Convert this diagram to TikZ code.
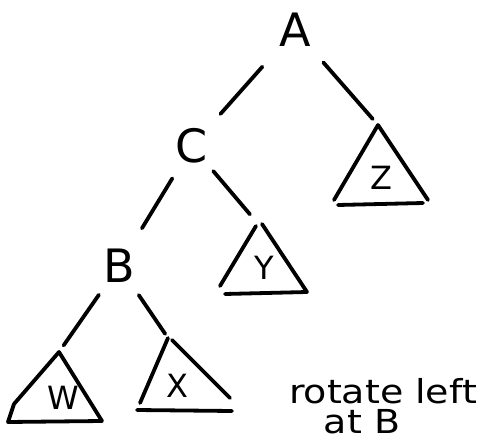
\documentclass[tikz,border=0pt]{standalone}
\usepackage{fontspec}
\setmainfont{DejaVu Sans}
\begin{document}
\begin{tikzpicture}[x=1pt,y=-1pt,
  ink/.style={line width=3.8pt,line cap=round,line join=round},
  key/.style={circle,inner sep=0pt,minimum size=40pt,font=\fontsize{46}{46}\selectfont},
  sub/.style={inner sep=0pt,font=\fontsize{32}{32}\selectfont},
  note/.style={inner sep=0pt,font=\fontsize{33}{33}\selectfont}]
\useasboundingbox (0,0) rectangle (485,444);
% key nodes
\node[key] (A) at (295,30) {A};
\node[key] (C) at (192,146) {C};
\node[key] (B) at (119,266) {B};
% subtree apexes
\coordinate (Zt) at (378,125);
\coordinate (Yt) at (259,225);
\coordinate (Wt) at (59,352);
\coordinate (Xt) at (168,338);
% subtrees
\draw[ink] (334,200) -- (Zt) -- (428,200);
\draw[ink] (338,205) -- (423,203);
\node[sub] (Z) at (381,178) {Z};
\draw[ink] (220,286) -- (256,226);
\draw[ink] (262,224) -- (307,292) -- (225,294);
\node[sub] (Y) at (264,268) {Y};
\draw[ink] (102,421) -- (Wt) -- (14,404) -- (8,422) -- (102,421);
\node[sub] (W) at (63,398) {W};
\draw[ink] (140,403) -- (Xt);
\draw[ink] (172,340) -- (230,398);
\draw[ink] (137,410) -- (232,411);
\node[sub] (X) at (177,386) {X};
% connectors
\draw[ink,shorten <=26pt,shorten >=19pt] (A) -- (C);
\draw[ink,shorten <=20pt,shorten >=8pt] (A) -- (Zt);
\draw[ink,shorten <=14pt,shorten >=21pt] (C) -- (B);
\draw[ink,shorten <=9pt,shorten >=14pt] (C) -- (Yt);
\draw[ink,shorten <=12pt,shorten >=8pt] (B) -- (Wt);
\draw[ink,shorten <=12pt,shorten >=5pt] (B) -- (Xt);
% note
\node[note,anchor=base] (n1) at (383,403) {\scalebox{1.15}[1]{rotate left}};
\node[note,anchor=base] (n2) at (362,433) {\scalebox{1.15}[1]{at B}};
\end{tikzpicture}
\end{document}
